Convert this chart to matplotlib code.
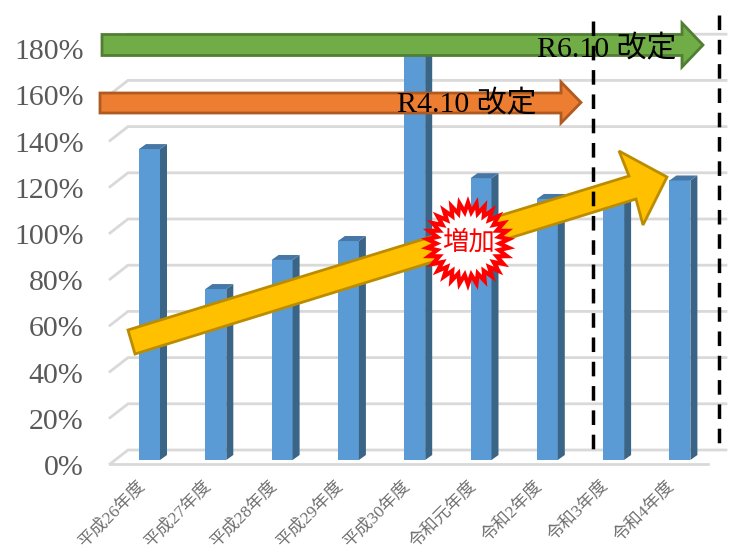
import numpy as np
import matplotlib
matplotlib.use("Agg")
import matplotlib.pyplot as plt
from matplotlib.patches import Polygon
from matplotlib.transforms import ScaledTranslation

categories = ["平成26年度", "平成27年度", "平成28年度", "平成29年度", "平成30年度",
              "令和元年度", "令和2年度", "令和3年度", "令和4年度"]
values = [134.6, 74, 86.6, 94.8, 178, 122, 113, 115, 121]
yticks = list(range(0, 181, 20))
ytick_labels = [f"{v}%" for v in yticks]
note_green = "R6.10 改定"
note_orange = "R4.10 改定"
note_burst = "増加"

W, H = 733, 555
FONT = ["Liberation Serif", "Noto Sans CJK JP"]
PX_PER_CAT = 66.3
PX_PER_PCT = 2.31
AX_L, AX_R, AX_B = 110, 708, 464
AX_T = AX_B - 180 * PX_PER_PCT

fig = plt.figure(figsize=(W / 100, H / 100), dpi=100, facecolor="white")
ax = fig.add_axes([AX_L / W, 1 - AX_B / H, (AX_R - AX_L) / W, (AX_B - AX_T) / H])
ax.set_xlim((AX_L - 149.5) / PX_PER_CAT, (AX_R - 149.5) / PX_PER_CAT)
ax.set_ylim(0, 180)
ax.patch.set_visible(False)
for s in ax.spines.values():
    s.set_visible(False)

dxc = lambda px: px / PX_PER_CAT
dyv = lambda px: px / PX_PER_PCT

# gridlines on the back wall with the perspective connector on the left
xmin, xmax = ax.get_xlim()
gc = "#d9d9d9"
for v in yticks:
    ax.plot([xmin, xmin + dxc(18), xmax + dxc(18)],
            [v, v + dyv(14), v + dyv(14)],
            color=gc, lw=2, clip_on=False, zorder=1, solid_joinstyle="miter")
ax.plot([xmin, xmax], [0, 0], color=gc, lw=2, clip_on=False, zorder=1)

# bars with side and top faces
bw = 21
depth_x, depth_y, lift = 7, 5, 4
x = np.arange(len(values))
ax.bar(x, values, width=dxc(bw), bottom=dyv(lift), color="#5b9bd5", zorder=3, linewidth=0)
for xi, v in zip(x, values):
    xl, xr = xi - dxc(bw) / 2, xi + dxc(bw) / 2
    y0, y1 = dyv(lift), dyv(lift) + v
    ax.add_patch(Polygon([(xr, y0), (xr + dxc(depth_x), y0 + dyv(depth_y)),
                          (xr + dxc(depth_x), y1 + dyv(depth_y)), (xr, y1)],
                         closed=True, fc="#3a6587", ec="none", zorder=3))
    ax.add_patch(Polygon([(xl, y1), (xr, y1), (xr + dxc(depth_x), y1 + dyv(depth_y)),
                          (xl + dxc(depth_x), y1 + dyv(depth_y))],
                         closed=True, fc="#4677a6", ec="none", zorder=3))

ax.set_yticks(yticks, ytick_labels, family=FONT, fontsize=21.5, color="#595959")
ax.tick_params(axis="y", length=0, pad=19)
ax.set_xticks(x, categories, family=FONT, fontsize=12.5, color="#707070",
              rotation=45, ha="right", rotation_mode="anchor")
ax.tick_params(axis="x", length=0, pad=10)
for lab in ax.get_xticklabels():
    lab.set_transform(lab.get_transform() + ScaledTranslation(-13 / 100, 0, fig.dpi_scale_trans))
for lab in ax.get_yticklabels():
    lab.set_transform(lab.get_transform() + ScaledTranslation(0, -1 / 100, fig.dpi_scale_trans))

# overlay in picture pixels for the drawn shapes
ov = fig.add_axes([0, 0, 1, 1])
ov.set_xlim(0, W)
ov.set_ylim(H, 0)
ov.axis("off")
ov.patch.set_visible(False)

ov.add_patch(Polygon([(102, 34.5), (682, 34.5), (682, 23), (703, 45), (682, 67), (682, 55.5), (102, 55.5)],
                     closed=True, fc="#70ad47", ec="#507e32", lw=2, zorder=2))
ov.add_patch(Polygon([(100, 93), (561, 93), (561, 82), (581, 102.5), (561, 123), (561, 113), (100, 113)],
                     closed=True, fc="#ed7d31", ec="#ae5a21", lw=2, zorder=2))
ov.add_patch(Polygon([(128, 330), (629, 176), (619, 151), (667, 177), (643, 225), (636, 199), (135, 354)],
                     closed=True, fc="#ffc000", ec="#bc8c00", lw=2, zorder=2))

# starburst
n = 30
ang = np.linspace(0, 2 * np.pi, 2 * n, endpoint=False) + np.pi / n
rad = np.where(np.arange(2 * n) % 2 == 0, 41, 31.5)
ov.add_patch(Polygon(np.c_[468 + rad * np.cos(ang), 243.5 + rad * np.sin(ang)],
                     closed=True, fc="white", ec="#ff0000", lw=3, zorder=3))
ov.text(468.5, 242, note_burst, family=FONT, fontsize=19, color="#ff0000", ha="center", va="center", zorder=4)

ov.text(606.5, 49, note_green, family=FONT, fontsize=21.5, color="black", ha="center", va="center", zorder=4)
ov.text(467, 104, note_orange, family=FONT, fontsize=21.5, color="black", ha="center", va="center", zorder=4)

for xd, y_top in [(593, 21), (719, 15)]:
    ov.plot([xd, xd], [y_top, 452], color="black", lw=2.5, ls=(0, (4.2, 2.8)), zorder=5)

fig.savefig("out.png", dpi=100)
